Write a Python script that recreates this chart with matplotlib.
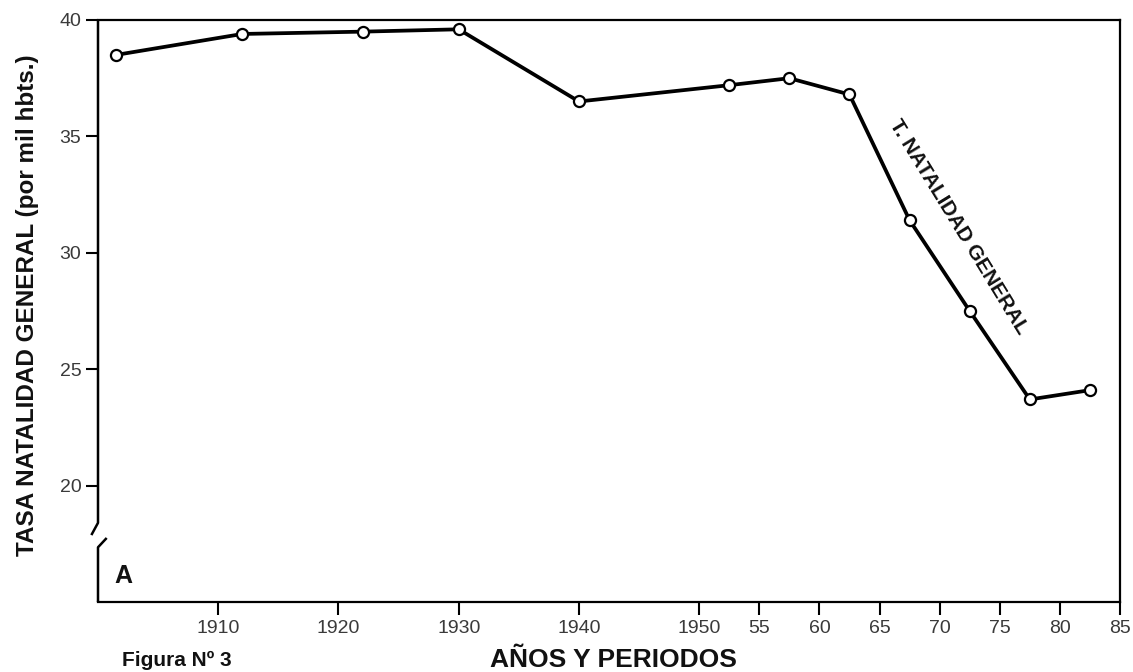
import matplotlib
matplotlib.use("Agg")
import matplotlib.pyplot as plt
from matplotlib.lines import Line2D

# ---- data ----
years = [1901.5, 1912, 1922, 1930, 1940, 1952.5, 1957.5, 1962.5, 1967.5, 1972.5, 1977.5, 1982.5]
birth_rate = [38.5, 39.4, 39.5, 39.6, 36.5, 37.2, 37.5, 36.8, 31.4, 27.5, 23.7, 24.1]
xtick_pos = [1910, 1920, 1930, 1940, 1950, 1955, 1960, 1965, 1970, 1975, 1980, 1985]
xtick_labels = ["1910", "1920", "1930", "1940", "1950", "55", "60", "65", "70", "75", "80", "85"]
ytick_pos = [20, 25, 30, 35, 40]
ytick_labels = ["20", "25", "30", "35", "40"]
series_label = "T. NATALIDAD GENERAL"

plt.rcParams['font.family'] = ['Liberation Sans', 'DejaVu Sans']

W, H = 1133, 672
fig = plt.figure(figsize=(W / 100, H / 100), dpi=100)
ax = fig.add_axes([98 / W, 1 - 602 / H, (1120 - 98) / W, (602 - 20) / H])

ax.plot(years, birth_rate, color='black', linewidth=2.7, marker='o', markersize=8,
        markerfacecolor='white', markeredgecolor='black', markeredgewidth=1.6, zorder=3)

ax.set_xlim(1900, 1985)
ax.set_ylim(15, 40)

ax.set_xticks(xtick_pos)
ax.set_xticklabels(xtick_labels)
ax.set_yticks(ytick_pos)
ax.set_yticklabels(ytick_labels)
ax.tick_params(axis='both', direction='out', length=9, width=1.5, color='black',
               labelsize=14, labelcolor='#3a3a3a')
ax.tick_params(axis='x', pad=4)
ax.tick_params(axis='y', pad=3)

for s in ['top', 'right', 'bottom']:
    ax.spines[s].set_linewidth(1.6)
    ax.spines[s].set_color('black')
ax.spines['left'].set_visible(False)

# broken left spine
lw = 1.8
ax.add_line(Line2D([0, 0, -0.0065], [1, 0.136, 0.115], transform=ax.transAxes,
                   color='black', linewidth=lw, clip_on=False, solid_capstyle='butt'))
ax.add_line(Line2D([0.0085, 0, 0], [0.11, 0.094, 0], transform=ax.transAxes,
                   color='black', linewidth=lw, clip_on=False, solid_capstyle='butt'))

ax.set_ylabel("TASA NATALIDAD GENERAL (por mil hbts.)", fontsize=17.5, fontweight='bold',
              color='#111111')
ax.yaxis.set_label_coords(-0.058, 0.51)

fig.text(613 / W, 1 - 660 / H, "AÑOS Y PERIODOS", fontsize=19, fontweight='bold',
         color='#111111', ha='center', va='center')
fig.text(122 / W, 1 - 670 / H, "Figura Nº 3", fontsize=15, fontweight='bold',
         color='#111111', ha='left', va='bottom')

ax.text(0.016, 0.045, "A", transform=ax.transAxes, fontsize=18, fontweight='bold',
        ha='left', va='center', color='#111111')

ax.text(1971.6, 31.1, series_label, fontsize=15, fontweight='bold', rotation=-58.5,
        ha='center', va='center', rotation_mode='anchor', color='#111111')

fig.savefig("out.png", dpi=100)
